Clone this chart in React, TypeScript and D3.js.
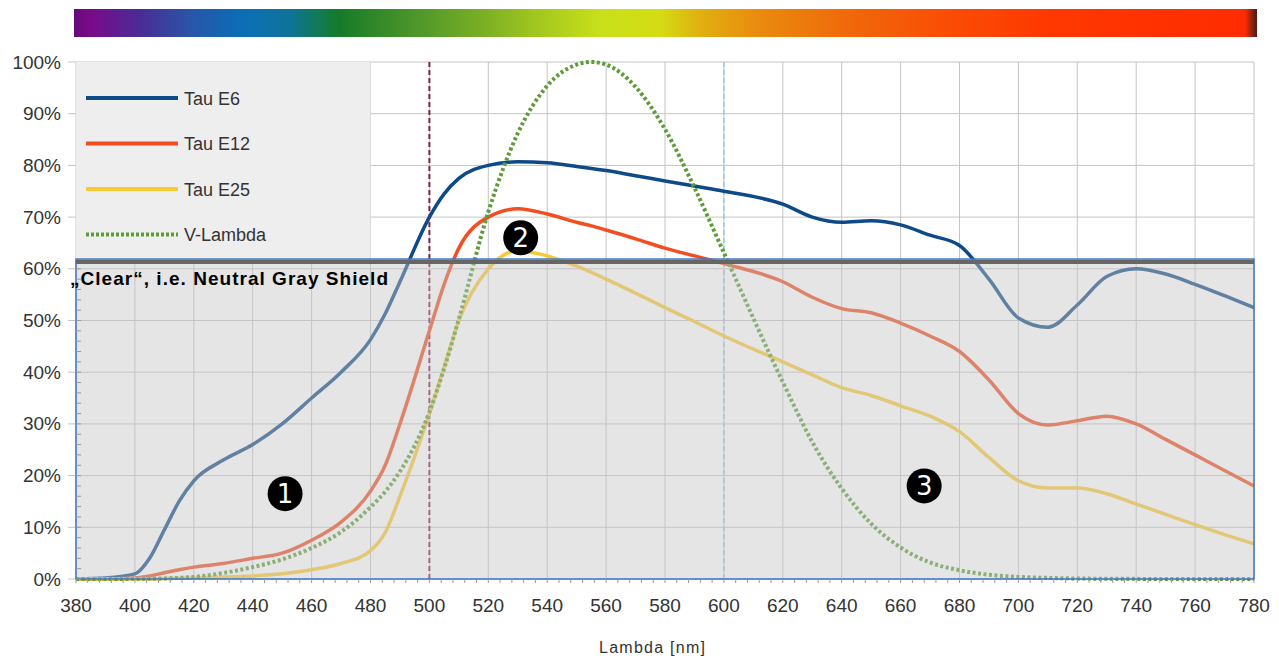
import React from 'react';
import * as d3 from 'd3';

// wavelengths in nm
const lambda = [380, 390, 400, 405, 410, 415, 420, 430, 440, 450, 460, 470, 480, 485, 490, 500, 505, 510, 520, 530, 540, 550, 555, 560, 570, 580, 590, 600, 620, 630, 640, 650, 660, 670, 680, 690, 700, 710, 720, 730, 740, 750, 760, 770, 780];

// transmission in %
const tauE6 = [0, 0.2, 1, 4, 9.5, 15, 19, 23, 26, 30, 35, 40, 46.3, 51.3, 57.5, 70, 74.5, 77.5, 80, 80.7, 80.5, 79.8, 79.4, 79, 78, 77, 76, 75, 72.5, 70, 69, 69.3, 68.5, 66.5, 64.5, 58, 50.5, 48.7, 53, 58.5, 60, 59, 57, 54.8, 52.5];
const tauE12 = [0, 0, 0.2, 0.6, 1.2, 1.8, 2.3, 3, 4, 5, 7.5, 11, 17, 22, 30, 48, 57, 64, 70, 71.6, 70.6, 69, 68.3, 67.5, 65.8, 64, 62.5, 61, 57.5, 54.5, 52.3, 51.5, 49.5, 47, 44, 38.5, 32, 29.8, 30.6, 31.5, 30, 27, 24, 21, 18];
const tauE25 = [0, 0, 0, 0, 0.1, 0.15, 0.2, 0.4, 0.6, 1, 1.8, 3, 5.5, 9, 16, 32, 41, 50, 60, 63.5, 62.5, 60.5, 59.3, 58, 55.3, 52.5, 49.8, 47, 42, 39.5, 37, 35.5, 33.5, 31.5, 28.5, 23.5, 19, 17.6, 17.6, 16.5, 14.5, 12.5, 10.5, 8.6, 6.8];
const vLambda = [0, 0.01, 0.04, 0.1, 0.12, 0.22, 0.4, 1.16, 2.3, 3.8, 6, 9.1, 13.9, 16.9, 20.8, 32.3, 40.7, 50.3, 71, 86.2, 95.4, 99.5, 100, 99.5, 95.2, 87, 75.7, 63.1, 38.1, 26.5, 17.5, 10.7, 6.1, 3.2, 1.7, 0.82, 0.41, 0.21, 0.1, 0.05, 0.025, 0.012, 0.006, 0.003, 0];

const xTicks = d3.range(380, 781, 20);
const yTicks = d3.range(0, 101, 10);
const shieldLevel = 61.5;

const seriesNames = ['Tau E6', 'Tau E12', 'Tau E25', 'V-Lambda'];
const seriesValues = [tauE6, tauE12, tauE25, vLambda];
const seriesColors = ['#0f4a88', '#f24e22', '#f7c935', '#5d9c38'];

const markers = [
  { label: '1', x: 451, y: 16.5 },
  { label: '2', x: 531, y: 66 },
  { label: '3', x: 668, y: 18 },
];

const spectrumStops = [
  [74, '#640a7a'], [90, '#7a0a8a'], [140, '#4a2c96'], [190, '#2a55a8'], [230, '#1068b4'],
  [250, '#0a70b4'], [290, '#0e7398'], [320, '#127a50'], [340, '#167a2a'], [370, '#2e8628'],
  [420, '#50982a'], [480, '#78ae24'], [540, '#a4c81e'], [600, '#c8e01a'], [660, '#d4dc14'],
  [700, '#e0b010'], [760, '#ea8a0e'], [850, '#f0680a'], [950, '#fa4c04'], [1050, '#ff3800'],
  [1245, '#ff2c00'], [1250, '#b02410'], [1257, '#4a1a14'],
];

const W = 1279;
const H = 656;
const left = 76;
const right = 1254;
const top = 62;
const bottom = 579;
const font = '"Liberation Sans", Arial, sans-serif';

export default function App() {
  const x = d3.scaleLinear().domain([380, 780]).range([left, right]);
  const y = d3.scaleLinear().domain([0, 100]).range([bottom, top]);
  const line = d3
    .line<number>()
    .x((d, i) => x(lambda[i]))
    .y((d) => y(d))
    .curve(d3.curveMonotoneX);

  const barX0 = 74;
  const barX1 = 1257;

  return (
    <svg width={W} height={H} style={{ position: 'absolute', left: 0, top: 0, background: '#fff' }} fontFamily={font}>
      <defs>
        <linearGradient id="spectrum" x1="0" x2="1" y1="0" y2="0">
          {spectrumStops.map(([px, c], i) => (
            <stop key={i} offset={((px as number) - barX0) / (barX1 - barX0)} stopColor={c as string} />
          ))}
        </linearGradient>
      </defs>

      {/* spectrum bar */}
      <rect x={barX0} y={9} width={barX1 - barX0} height={28} fill="url(#spectrum)" />

      {/* grid */}
      {xTicks.map((t) => (
        <line key={'gx' + t} x1={x(t)} x2={x(t)} y1={top} y2={bottom} stroke="#c4c4c4" strokeWidth={1} />
      ))}
      {yTicks.map((t) => (
        <line key={'gy' + t} x1={left - 8} x2={right} y1={y(t)} y2={y(t)} stroke="#c4c4c4" strokeWidth={1} />
      ))}

      {/* legend box */}
      <rect x={left} y={top} width={x(480) - left} height={y(shieldLevel) - top} fill="#eeeeee" />

      {/* reference wavelengths */}
      <line x1={x(500)} x2={x(500)} y1={top} y2={bottom} stroke="#7a2346" strokeWidth={2} strokeDasharray="5,3" />
      <line x1={x(600)} x2={x(600)} y1={top} y2={bottom} stroke="#9cc3e6" strokeWidth={1.5} strokeDasharray="5,3" />

      {/* curves */}
      {seriesValues.map((vals, i) => (
        <path
          key={seriesNames[i]}
          d={line(vals) || ''}
          fill="none"
          stroke={seriesColors[i]}
          strokeWidth={i === 3 ? 4 : 3.5}
          strokeDasharray={i === 3 ? '3,2.5' : undefined}
        />
      ))}

      {/* neutral gray shield */}
      <rect
        x={left}
        y={y(shieldLevel) - 2}
        width={right - left}
        height={bottom - y(shieldLevel) + 2}
        fill="rgba(198,198,198,0.45)"
        stroke="#3f74c2"
        strokeWidth={1.5}
      />
      <line x1={left} x2={right} y1={y(shieldLevel) + 1} y2={y(shieldLevel) + 1} stroke="#666" strokeWidth={4} />
      <text x={70} y={285} fontSize={19} fontWeight="bold" fill="#000" textLength={318} lengthAdjust="spacing">
        „Clear“, i.e. Neutral Gray Shield
      </text>

      {/* minor ticks */}
      {d3.range(380, 781, 4).map((t) => (
        <line key={'mx' + t} x1={x(t)} x2={x(t)} y1={bottom} y2={bottom + 4} stroke="#999" strokeWidth={1} />
      ))}
      {d3.range(0, 61, 2).map((t) => (
        <line key={'my' + t} x1={left} x2={left + 5} y1={y(t)} y2={y(t)} stroke="#999" strokeWidth={1} />
      ))}

      {/* axes labels */}
      {yTicks.map((t) => (
        <text key={'ly' + t} x={61} y={y(t) + 6.5} textAnchor="end" fontSize={19} fill="#333">
          {t}%
        </text>
      ))}
      {xTicks.map((t) => (
        <text key={'lx' + t} x={x(t)} y={612} textAnchor="middle" fontSize={19} fill="#333">
          {t}
        </text>
      ))}
      <text x={652} y={653} textAnchor="middle" fontSize={16} fill="#333" textLength={106} lengthAdjust="spacing">
        Lambda [nm]
      </text>

      {/* legend */}
      {seriesNames.map((n, i) => {
        const ly = 98 + i * 45.5;
        return (
          <g key={'lg' + n}>
            <line
              x1={86}
              x2={178}
              y1={ly}
              y2={ly}
              stroke={seriesColors[i]}
              strokeWidth={4}
              strokeDasharray={i === 3 ? '3,2' : undefined}
            />
            <text x={184} y={ly + 6.5} fontSize={18} fill="#333">
              {n}
            </text>
          </g>
        );
      })}

      {/* numbered markers */}
      {markers.map((m) => (
        <g key={'m' + m.label}>
          <circle cx={x(m.x)} cy={y(m.y)} r={17.5} fill="#000" />
          <text x={x(m.x)} y={y(m.y) + 9} textAnchor="middle" fontSize={26} fill="#fff" fontFamily='"DejaVu Sans", sans-serif'>
            {m.label}
          </text>
        </g>
      ))}
    </svg>
  );
}
